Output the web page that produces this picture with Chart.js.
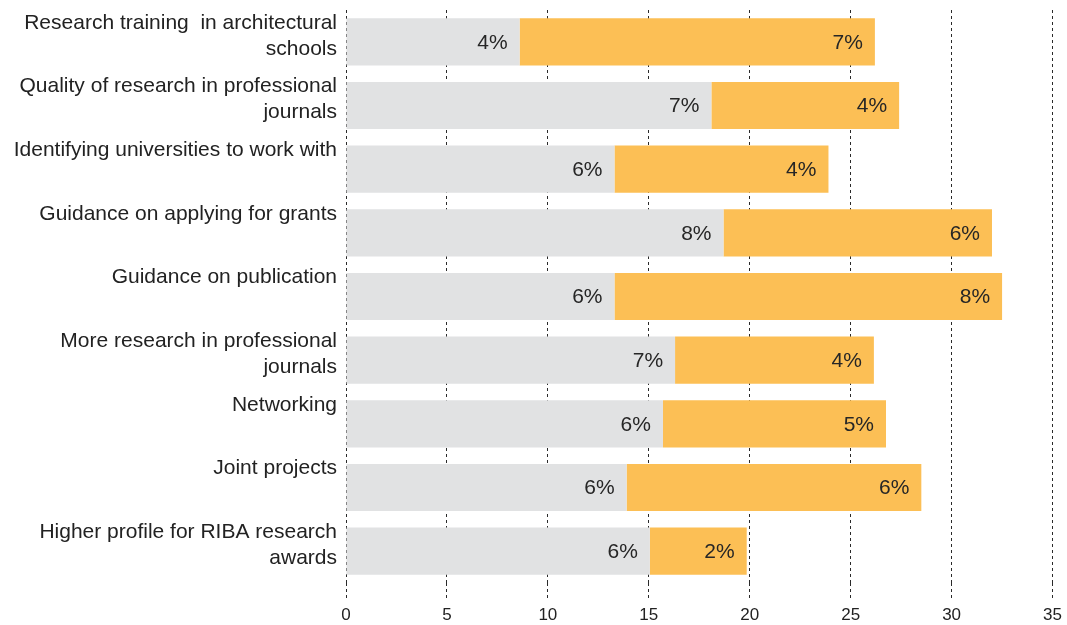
<!DOCTYPE html>
<html>
<head>
<meta charset="utf-8">
<script src="https://cdn.jsdelivr.net/npm/chart.js@4/dist/chart.umd.min.js"></script>
<style>
  html, body { margin: 0; padding: 0; background: #fff; }
  #wrap { width: 1067px; height: 625px; position: relative; }
</style>
</head>
<body>
<div id="wrap"><canvas id="barChart"></canvas></div>
<script>
// categories (blank second line keeps single-line labels sitting high like the original)
const categories = [
  ["Research training  in architectural", "schools"],
  ["Quality of research in professional", "journals"],
  ["Identifying universities to work with", ""],
  ["Guidance on applying for grants", ""],
  ["Guidance on publication", ""],
  ["More research in professional", "journals"],
  ["Networking", ""],
  ["Joint projects", ""],
  ["Higher profile for RIBA research", "awards"]
]
const greyValues = [8.6, 18.1, 13.3, 18.7, 13.3, 16.3, 15.7, 13.9, 15.05]
const orangeValues = [17.6, 9.3, 10.6, 13.3, 19.2, 9.85, 11.05, 14.6, 4.8]
const greyLabels = ["4%", "7%", "6%", "8%", "6%", "7%", "6%", "6%", "6%"]
const orangeLabels = ["7%", "4%", "4%", "6%", "8%", "4%", "5%", "6%", "2%"]
const xTicks = [0, 5, 10, 15, 20, 25, 30, 35]

const FONT = "'Liberation Sans', Arial, Helvetica, sans-serif"

// prints the % label at the right end of each segment
const segmentLabels = {
  id: "segmentLabels",
  afterDatasetsDraw(chart) {
    const ctx = chart.ctx
    ctx.save()
    ctx.font = "21px " + FONT
    ctx.fillStyle = "#262626"
    ctx.textAlign = "right"
    ctx.textBaseline = "middle"
    chart.data.datasets.forEach((ds, i) => {
      chart.getDatasetMeta(i).data.forEach((bar, j) => {
        ctx.fillText(ds.segLabels[j], bar.x - 12, bar.y + 1)
      })
    })
    ctx.restore()
  },
}

document.addEventListener("DOMContentLoaded", () => {
  const ctx = document.getElementById("barChart")

  new Chart(ctx, {
    type: "bar",
    data: {
      labels: categories,
      datasets: [
        {
          label: "Grey",
          data: greyValues,
          segLabels: greyLabels,
          backgroundColor: "#e1e2e3",
          barPercentage: 0.74,
          categoryPercentage: 1,
        },
        {
          label: "Orange",
          data: orangeValues,
          segLabels: orangeLabels,
          backgroundColor: "#fcbf55",
          barPercentage: 0.74,
          categoryPercentage: 1,
        },
      ],
    },
    plugins: [segmentLabels],
    options: {
      indexAxis: "y",
      responsive: true,
      maintainAspectRatio: false,
      animation: false,
      layout: { padding: { top: 10, right: 10, left: 0, bottom: 0 } },
      plugins: {
        legend: { display: false },
        tooltip: { enabled: false },
      },
      scales: {
        x: {
          stacked: true,
          min: 0,
          max: 35,
          afterBuildTicks(scale) {
            scale.ticks = xTicks.map(v => ({ value: v }))
          },
          afterFit(scale) {
            scale.height = 42
          },
          border: { display: false, dash: [3, 3] },
          grid: {
            color: "#2a2a2a",
            lineWidth: 1,
            tickLength: 17,
            tickColor: "#2a2a2a",
            tickBorderDash: [3, 3],
          },
          ticks: {
            color: "#222",
            padding: 5,
            font: { family: FONT, size: 17 },
          },
        },
        y: {
          stacked: true,
          afterFit(scale) {
            scale.width = 346
            scale.paddingTop = 0
            scale.paddingBottom = 0
          },
          border: { display: false },
          grid: { display: false },
          ticks: {
            color: "#222",
            padding: 1,
            labelOffset: -6,
            font: { family: FONT, size: 21, lineHeight: 1.25 },
          },
        },
      },
    },
  })
})
</script>
</body>
</html>
